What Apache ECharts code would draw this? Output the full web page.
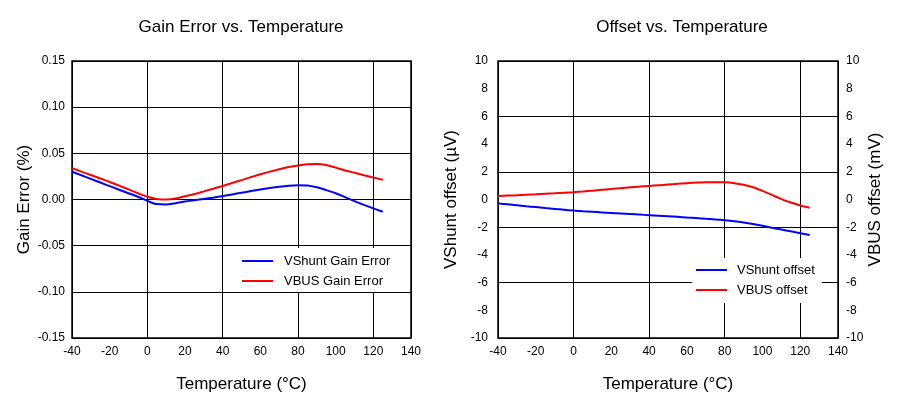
<!DOCTYPE html>
<html>
<head>
<meta charset="utf-8">
<script src="https://cdn.jsdelivr.net/npm/echarts@6/dist/echarts.min.js"></script>
<style>
html,body{margin:0;padding:0;background:#fff;}
#chart{width:909px;height:416px;}
</style>
</head>
<body>
<div id="chart"></div>
<script>
// ---- Data (every 5 °C) ----
const temps = [-40, -35, -30, -25, -20, -15, -10, -5, 0, 5, 10, 15, 20, 25, 30, 35, 40, 45,
               50, 55, 60, 65, 70, 75, 80, 85, 90, 95, 100, 105, 110, 115, 120, 125];

// Gain error (%)
const vshuntGainError = [0.0300, 0.0262, 0.0223, 0.0184, 0.0145, 0.0106, 0.0068, 0.0030, -0.0015, -0.0050,
                         -0.0053, -0.0040, -0.0022, -0.0008, 0.0006, 0.0020, 0.0037, 0.0055, 0.0073, 0.0091,
                         0.0108, 0.0124, 0.0138, 0.0149, 0.0155, 0.0152, 0.0132, 0.0102, 0.0068, 0.0025,
                         -0.0018, -0.0058, -0.0096, -0.0133];
const vbusGainError = [0.0340, 0.0302, 0.0265, 0.0227, 0.0190, 0.0150, 0.0110, 0.0068, 0.0030, 0.0006,
                       0.0000, 0.0010, 0.0035, 0.0060, 0.0088, 0.0117, 0.0147, 0.0179, 0.0210, 0.0242,
                       0.0273, 0.0302, 0.0328, 0.0351, 0.0369, 0.0381, 0.0384, 0.0374, 0.0345, 0.0315,
                       0.0289, 0.0262, 0.0237, 0.0215];

// Offsets (µV for VShunt, mV for VBUS)
const vshuntOffset = [-0.28, -0.35, -0.42, -0.49, -0.55, -0.62, -0.68, -0.74, -0.80, -0.85,
                      -0.89, -0.93, -0.97, -1.01, -1.05, -1.09, -1.13, -1.17, -1.21, -1.25,
                      -1.30, -1.34, -1.39, -1.44, -1.50, -1.57, -1.66, -1.77, -1.90, -2.04,
                      -2.17, -2.30, -2.43, -2.56];
const vbusOffset = [0.25, 0.28, 0.31, 0.35, 0.38, 0.42, 0.45, 0.49, 0.53, 0.58,
                    0.64, 0.70, 0.76, 0.82, 0.88, 0.93, 0.98, 1.03, 1.08, 1.13,
                    1.18, 1.22, 1.24, 1.25, 1.24, 1.18, 1.06, 0.88, 0.62, 0.33,
                    0.03, -0.22, -0.43, -0.59];

const titles = ['Gain Error vs. Temperature', 'Offset vs. Temperature'];
const seriesNames = ['VShunt Gain Error', 'VBUS Gain Error', 'VShunt offset', 'VBUS offset'];

const FONT = '"Liberation Sans", Arial, sans-serif';
const pair = (xs, ys) => xs.map((x, i) => [x, ys[i]]);

const chart = echarts.init(document.getElementById('chart'), null, {renderer: 'canvas'});

const gridLine = {show: true, lineStyle: {color: '#000', width: 1}};
const noLine = {show: false};
const lbl = (extra) => Object.assign({color: '#000', fontSize: 12, fontFamily: FONT}, extra || {});
const nameStyle = {color: '#000', fontSize: 17, fontFamily: FONT};

function xAxesFor(g) {
  return [
    {gridIndex: g, type: 'value', position: 'bottom', min: -40, max: 140, interval: 40,
     axisLine: noLine, axisTick: noLine, axisLabel: {show: false}, splitLine: gridLine},
    {gridIndex: g, type: 'value', position: 'bottom', min: -40, max: 140, interval: 20,
     axisLine: noLine, axisTick: noLine, axisLabel: lbl({margin: 8}), splitLine: noLine,
     name: 'Temperature (°C)', nameLocation: 'middle', nameGap: 38, nameTextStyle: nameStyle}
  ];
}

const lineSeries = (name, xi, yi, xs, ys, color) => ({
  name, type: 'line', xAxisIndex: xi, yAxisIndex: yi, data: pair(xs, ys),
  smooth: 0.3, showSymbol: false,
  lineStyle: {color, width: 2}, itemStyle: {color}
});

const option = {
  backgroundColor: '#fff',
  animation: false,
  title: [
    {text: titles[0], left: 241, top: 19, textAlign: 'center', padding: 0,
     textStyle: {fontSize: 17, fontWeight: 'normal', color: '#000', fontFamily: FONT}},
    {text: titles[1], left: 682, top: 19, textAlign: 'center', padding: 0,
     textStyle: {fontSize: 17, fontWeight: 'normal', color: '#000', fontFamily: FONT}}
  ],
  grid: [
    {left: 72, top: 61, width: 339, height: 277, show: true, borderColor: '#000', borderWidth: 1.5, backgroundColor: 'transparent'},
    {left: 498, top: 61, width: 340, height: 277, show: true, borderColor: '#000', borderWidth: 1.5, backgroundColor: 'transparent'}
  ],
  xAxis: [].concat(xAxesFor(0), xAxesFor(1)),
  yAxis: [
    {gridIndex: 0, type: 'value', min: -0.15, max: 0.15, interval: 0.05,
     axisLine: noLine, axisTick: noLine, splitLine: gridLine,
     axisLabel: lbl({margin: 7, formatter: v => v.toFixed(2)}),
     name: 'Gain Error (%)', nameLocation: 'middle', nameGap: 39, nameRotate: 90, nameTextStyle: nameStyle},
    {gridIndex: 1, type: 'value', position: 'left', min: -10, max: 10, interval: 4,
     axisLine: noLine, axisTick: noLine, splitLine: gridLine, axisLabel: {show: false}},
    {gridIndex: 1, type: 'value', position: 'left', min: -10, max: 10, interval: 2,
     axisLine: noLine, axisTick: noLine, splitLine: noLine, axisLabel: lbl({margin: 10}),
     name: 'VShunt offset (µV)', nameLocation: 'middle', nameGap: 38, nameRotate: 90, nameTextStyle: nameStyle},
    {gridIndex: 1, type: 'value', position: 'right', min: -10, max: 10, interval: 2,
     axisLine: noLine, axisTick: noLine, splitLine: noLine, axisLabel: lbl({margin: 8, padding: [6, 0, 0, 0]}),
     name: 'VBUS offset (mV)', nameLocation: 'middle', nameGap: 21, nameRotate: 90, nameTextStyle: nameStyle}
  ],
  legend: [
    {data: [seriesNames[0], seriesNames[1]], orient: 'vertical', left: 235, top: 248,
     padding: [6, 8, 4, 7], itemGap: 6, itemWidth: 31, itemHeight: 2, icon: 'rect',
     backgroundColor: '#fff',
     textStyle: {fontSize: 13, color: '#000', fontFamily: FONT, lineHeight: 14, padding: [0, 0, 0, 6]}},
    {data: [seriesNames[2], seriesNames[3]], orient: 'vertical', left: 692, top: 258,
     padding: [5, 7, 6, 4], itemGap: 6, itemWidth: 31, itemHeight: 2, icon: 'rect',
     backgroundColor: '#fff',
     textStyle: {fontSize: 13, color: '#000', fontFamily: FONT, lineHeight: 14, padding: [0, 0, 0, 5]}}
  ],
  series: [
    lineSeries(seriesNames[0], 0, 0, temps, vshuntGainError, '#0000ff'),
    lineSeries(seriesNames[1], 0, 0, temps, vbusGainError, '#ff0000'),
    lineSeries(seriesNames[2], 2, 2, temps, vshuntOffset, '#0000ff'),
    lineSeries(seriesNames[3], 2, 3, temps, vbusOffset, '#ff0000')
  ]
};
chart.setOption(option);
</script>
</body>
</html>
